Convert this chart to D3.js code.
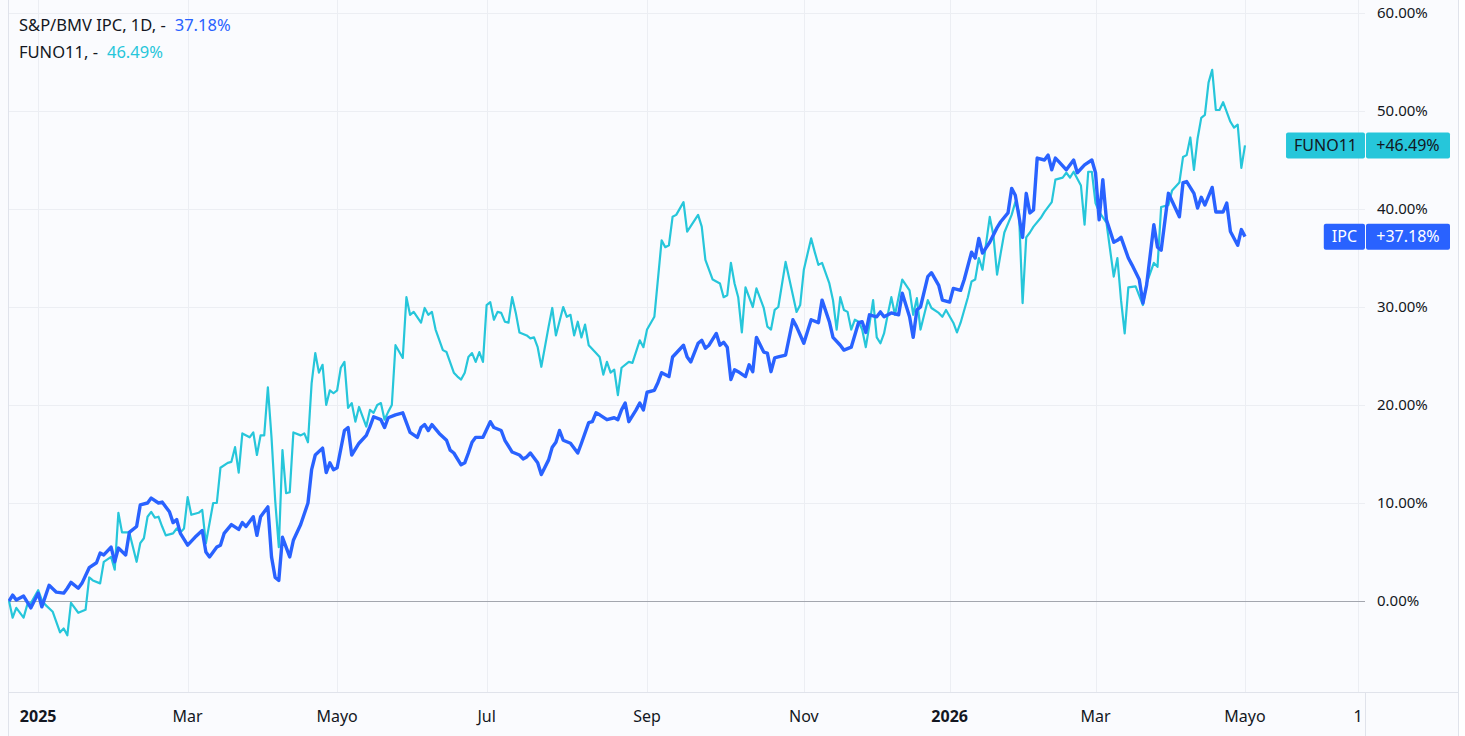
<!DOCTYPE html>
<html>
<head>
<meta charset="utf-8">
<script src="https://cdn.jsdelivr.net/npm/d3@7"></script>
<style>
  body { margin: 0; background: #fafbfe; }
  svg { display: block; font-family: 'Noto Sans', sans-serif; }
</style>
</head>
<body>
<svg width="1465" height="736"></svg>
<script>
// Series: [trading session index, % change since first session]
var ipcData = [[0,0],[1,0.6],[2,0.1],[4,0.5],[6,-0.7],[8,0.8],[9,-0.6],[11,1.6],[13,0.9],[15,0.8],[16,1.3],[17,1.9],[19,1.3],[20,1.8],[22,3.4],[24,3.9],[25,4.9],[26,4.7],[28,5.5],[29,4.0],[30,5.4],[32,4.7],[33,7.0],[35,7.6],[36,9.8],[38,10.0],[39,10.5],[41,10.0],[42,10.1],[44,9.1],[45,8.0],[46,8.3],[47,6.9],[49,5.7],[51,6.5],[53,7.2],[54,5.0],[55,4.5],[57,5.5],[58,5.7],[59,6.9],[61,7.8],[63,7.3],[64,8.0],[65,7.6],[67,8.6],[68,6.7],[69,8.6],[71,9.6],[72,4.5],[73,2.4],[74,2.1],[75,6.5],[77,4.5],[78,6.2],[80,7.8],[82,10.0],[83,13.4],[84,14.9],[86,15.6],[87,13.1],[88,14.1],[89,13.4],[90,13.6],[92,17.4],[93,17.7],[94,14.9],[96,16.1],[98,16.9],[99,17.8],[100,18.8],[102,18.5],[103,17.7],[104,18.7],[106,19.0],[108,19.2],[109,18.2],[110,17.2],[112,16.7],[113,17.7],[114,18.0],[115,17.4],[116,18.0],[118,17.1],[120,16.4],[121,15.4],[122,15.1],[124,13.9],[125,14.1],[126,15.1],[127,16.2],[128,16.7],[130,16.7],[132,18.3],[133,17.7],[135,17.4],[136,16.4],[138,15.2],[140,14.9],[141,14.5],[142,14.7],[143,15.1],[145,14.1],[146,12.9],[148,14.4],[149,15.7],[150,16.2],[151,17.4],[152,16.4],[154,16.1],[156,15.1],[157,16.1],[159,18.2],[160,18.3],[161,19.2],[162,19.0],[164,18.5],[166,18.7],[167,18.5],[168,19.5],[169,20.2],[170,18.3],[172,19.5],[173,20.2],[174,19.5],[175,21.3],[177,21.5],[178,22.3],[179,23.3],[181,22.9],[182,24.9],[185,26.1],[186,24.9],[187,24.4],[189,26.3],[190,26.6],[191,25.8],[192,26.1],[194,27.3],[195,26.1],[196,26.4],[197,25.9],[198,22.6],[199,23.6],[200,23.4],[202,22.9],[203,24.1],[204,23.4],[205,26.9],[207,25.4],[208,25.3],[209,23.4],[210,24.8],[211,24.9],[213,25.1],[215,28.7],[216,28.0],[218,26.3],[220,28.7],[222,28.4],[223,30.7],[225,28.5],[226,26.9],[228,26.1],[229,25.6],[231,25.9],[233,28.4],[234,28.5],[235,27.4],[236,29.2],[238,29.0],[239,29.5],[240,29.0],[242,29.4],[244,29.2],[245,31.4],[247,29.0],[248,26.9],[249,29.7],[250,30.0],[252,33.1],[253,33.5],[255,32.2],[256,30.7],[258,30.5],[259,31.9],[261,31.7],[262,32.8],[264,35.6],[265,35.0],[266,37.0],[267,35.5],[269,36.6],[271,38.1],[272,38.7],[274,39.6],[275,42.1],[276,41.4],[278,37.1],[279,41.6],[280,39.6],[281,39.9],[282,45.2],[284,45.0],[285,45.5],[286,44.0],[287,45.2],[288,44.8],[290,44.0],[292,45.0],[293,43.7],[295,44.5],[297,45.0],[298,43.7],[299,38.9],[300,43.0],[301,38.9],[303,36.6],[304,36.8],[305,37.1],[307,35.0],[308,34.3],[310,32.8],[311,30.4],[312,32.2],[314,38.4],[315,36.1],[316,35.8],[318,41.6],[321,39.2],[322,42.7],[323,42.8],[325,41.6],[326,40.1],[327,41.2],[328,40.4],[330,42.2],[331,39.7],[333,39.7],[334,40.6],[335,37.7],[337,36.3],[338,37.9],[339,37.18]];

var funoData = [[0,0],[1,-1.7],[2,-0.7],[4,-1.7],[5,-0.4],[6,-0.2],[8,1.1],[9,0.1],[10,-0.4],[12,-1.1],[14,-3.2],[15,-2.8],[16,-3.5],[17,-0.2],[19,-1.2],[21,-0.9],[22,2.4],[23,2.1],[25,1.8],[26,4.0],[28,4.5],[29,3.2],[30,9.0],[31,7.0],[33,7.0],[35,4.0],[36,5.9],[37,6.4],[38,8.6],[39,9.1],[40,8.5],[41,8.6],[42,7.6],[43,6.7],[45,6.9],[46,7.4],[47,7.0],[48,7.4],[49,10.6],[50,8.8],[52,9.0],[53,9.3],[54,5.9],[56,10.0],[57,10.0],[58,13.6],[60,14.1],[61,14.2],[62,15.7],[63,13.1],[64,17.1],[66,16.7],[67,17.2],[68,14.9],[69,16.9],[70,16.9],[71,21.8],[72,16.7],[73,10.3],[74,5.5],[75,15.4],[76,11.0],[77,11.1],[78,17.2],[80,16.9],[81,17.1],[82,16.2],[83,22.2],[84,25.3],[85,23.3],[86,24.1],[87,20.0],[88,21.5],[89,21.2],[90,21.5],[91,23.8],[92,24.4],[93,19.7],[94,20.2],[95,18.3],[96,19.8],[98,17.8],[99,19.5],[100,19.2],[101,20.0],[102,20.2],[103,18.5],[104,19.3],[105,20.0],[106,26.1],[108,24.8],[109,31.0],[110,29.2],[111,29.5],[113,28.4],[114,29.9],[115,29.2],[116,29.5],[117,27.7],[119,25.6],[120,25.4],[122,23.3],[123,22.9],[124,22.6],[125,23.3],[126,24.9],[127,25.3],[128,24.4],[129,25.4],[130,24.4],[131,30.2],[132,30.5],[133,28.7],[134,29.5],[135,29.4],[136,28.5],[137,28.4],[138,31.0],[139,29.4],[140,27.4],[142,27.1],[143,26.8],[144,26.9],[145,25.9],[146,23.9],[148,28.0],[149,29.9],[150,27.1],[152,30.0],[153,29.0],[154,29.2],[155,27.1],[156,28.5],[157,26.9],[158,28.2],[159,26.1],[161,25.3],[162,24.9],[163,23.1],[164,24.4],[165,23.3],[166,23.6],[167,21.0],[168,23.8],[170,24.4],[171,24.3],[173,26.6],[174,25.9],[175,27.7],[177,29.0],[179,36.8],[180,36.1],[181,36.3],[182,39.2],[183,39.4],[185,40.7],[186,37.7],[189,39.4],[190,38.2],[191,34.8],[193,32.8],[195,32.4],[196,31.0],[197,31.2],[198,34.5],[199,32.4],[200,31.0],[201,27.4],[202,32.0],[204,30.0],[205,31.9],[207,29.9],[208,28.0],[209,27.7],[210,29.7],[211,30.0],[213,34.6],[215,31.2],[216,29.5],[217,30.2],[218,33.8],[220,37.0],[221,35.6],[222,34.3],[223,34.5],[225,32.4],[226,30.7],[227,27.7],[228,31.0],[229,29.7],[230,29.5],[231,27.7],[232,28.7],[233,28.5],[234,27.7],[235,25.9],[236,28.2],[237,30.7],[238,26.9],[239,26.3],[240,27.3],[241,29.2],[242,31.0],[243,29.2],[245,32.8],[247,31.7],[248,29.2],[249,30.9],[250,27.7],[252,30.7],[253,29.9],[255,29.4],[256,29.0],[257,29.7],[259,28.4],[260,27.4],[261,28.4],[263,31.0],[264,32.6],[265,32.8],[266,35.0],[267,33.8],[269,39.2],[270,37.3],[271,33.3],[272,35.5],[273,37.6],[275,39.4],[276,40.7],[277,39.7],[278,30.4],[279,37.1],[280,37.6],[281,38.2],[283,39.1],[284,39.7],[286,40.7],[287,43.0],[289,43.2],[290,43.7],[291,43.2],[292,43.8],[294,42.4],[295,38.4],[296,43.8],[297,43.8],[298,40.6],[299,39.7],[301,38.6],[303,33.1],[304,35.0],[305,30.7],[306,27.3],[307,32.0],[309,32.1],[311,30.2],[312,32.4],[314,34.5],[315,34.1],[316,40.2],[318,40.4],[319,41.9],[321,42.7],[322,45.3],[323,45.5],[324,47.3],[325,44.0],[326,47.2],[327,49.3],[328,49.6],[329,52.9],[330,54.2],[331,50.1],[332,50.1],[333,50.9],[335,48.9],[336,48.3],[337,48.6],[338,44.2],[339,46.49]];

// Time axis: label text and the session where it sits
var timeLabels = ['2025', 'Mar', 'Mayo', 'Jul', 'Sep', 'Nov', '2026', 'Mar', 'Mayo', '1'];
var timeSessions = [8, 49, 90, 131, 175, 218, 258, 298, 339, 370];

// Price axis ticks
var pctTicks = [0, 10, 20, 30, 40, 50, 60];

var svg = d3.select('svg');
var svgWidth = +svg.attr('width');
var svgHeight = +svg.attr('height');

var plot = {l: 8, r: 1365, t: 0, b: 692};
var axisEdge = 1458;

var blue = '#2962ff';
var cyan = '#26c6da';
var textColor = '#131722';

var x = d3.scaleLinear().domain([0, 339]).range([9, 1245]);
var y = d3.scaleLinear().domain([0, 60]).range([601, 13]);

svg.append('rect')
    .attr('width', svgWidth)
    .attr('height', svgHeight)
    .attr('fill', '#fafbfe');

svg.append('rect')
    .attr('x', axisEdge)
    .attr('width', svgWidth - axisEdge)
    .attr('height', svgHeight)
    .attr('fill', '#ffffff');

// grid
var grid = svg.append('g');
grid.selectAll('.hgrid')
    .data(pctTicks.filter(function(d){ return d !== 0; }))
    .enter().append('line')
    .attr('x1', plot.l).attr('x2', plot.r)
    .attr('y1', function(d){ return Math.round(y(d)) + 0.5; })
    .attr('y2', function(d){ return Math.round(y(d)) + 0.5; })
    .attr('stroke', '#eceef3');

grid.selectAll('.vgrid')
    .data(timeSessions)
    .enter().append('line')
    .attr('x1', function(d){ return Math.round(x(d)) + 0.5; })
    .attr('x2', function(d){ return Math.round(x(d)) + 0.5; })
    .attr('y1', plot.t).attr('y2', plot.b)
    .attr('stroke', '#eceef3');

// borders
svg.append('line')
    .attr('x1', plot.l + 0.5).attr('x2', plot.l + 0.5)
    .attr('y1', 0).attr('y2', svgHeight)
    .attr('stroke', '#e0e3eb');
svg.append('line')
    .attr('x1', plot.l).attr('x2', axisEdge)
    .attr('y1', plot.b + 0.5).attr('y2', plot.b + 0.5)
    .attr('stroke', '#e0e3eb');
svg.append('line')
    .attr('x1', axisEdge + 0.5).attr('x2', axisEdge + 0.5)
    .attr('y1', 0).attr('y2', svgHeight)
    .attr('stroke', '#e0e3eb');
svg.append('line')
    .attr('x1', plot.r + 0.5).attr('x2', plot.r + 0.5)
    .attr('y1', plot.b).attr('y2', svgHeight)
    .attr('stroke', '#e0e3eb');

// zero line
svg.append('line')
    .attr('x1', plot.l).attr('x2', plot.r)
    .attr('y1', Math.round(y(0)) + 0.5).attr('y2', Math.round(y(0)) + 0.5)
    .attr('stroke', '#a3a6ae');

// price axis
var yAxis = svg.append('g')
    .attr('transform', 'translate(' + plot.r + ',0)')
    .call(d3.axisRight(y).tickValues(pctTicks).tickSize(0).tickPadding(12)
        .tickFormat(function(d){ return d.toFixed(2) + '%'; }));
yAxis.select('.domain').remove();
yAxis.selectAll('text')
    .attr('fill', textColor)
    .style('font-size', '15px')
    .style('font-family', "'Noto Sans', sans-serif");

// time axis labels
svg.append('g').selectAll('text')
    .data(timeLabels)
    .enter().append('text')
    .attr('x', function(d, i){ return x(timeSessions[i]); })
    .attr('y', 716)
    .attr('dy', '0.35em')
    .attr('text-anchor', 'middle')
    .attr('fill', textColor)
    .style('font-size', '16px')
    .style('font-weight', function(d){ return /^\d{4}$/.test(d) ? 'bold' : 'normal'; })
    .text(function(d){ return d; });

// lines
svg.append('clipPath').attr('id', 'plotClip')
    .append('rect')
    .attr('x', plot.l).attr('y', plot.t)
    .attr('width', plot.r - plot.l).attr('height', plot.b - plot.t);

var line = d3.line()
    .x(function(d){ return x(d[0]); })
    .y(function(d){ return y(d[1]); });

var lines = svg.append('g').attr('clip-path', 'url(#plotClip)');
lines.append('path')
    .datum(funoData)
    .attr('d', line)
    .attr('fill', 'none')
    .attr('stroke', cyan)
    .attr('stroke-width', 2.2)
    .attr('stroke-linejoin', 'round');
lines.append('path')
    .datum(ipcData)
    .attr('d', line)
    .attr('fill', 'none')
    .attr('stroke', blue)
    .attr('stroke-width', 3.4)
    .attr('stroke-linejoin', 'round');

// last value badges on the price axis
var badges = [
    {name: 'FUNO11', value: funoData[funoData.length - 1][1], color: cyan, ink: textColor},
    {name: 'IPC', value: ipcData[ipcData.length - 1][1], color: blue, ink: '#ffffff'}
];
badges.forEach(function(b) {
    var cy = y(b.value);
    var g = svg.append('g').attr('transform', 'translate(0,' + cy + ')');
    var nameText = g.append('text')
        .attr('y', 0).attr('dy', '0.35em')
        .attr('text-anchor', 'end')
        .attr('x', plot.r - 8)
        .attr('fill', b.ink)
        .style('font-size', '16px')
        .text(b.name);
    var w = nameText.node().getComputedTextLength();
    g.insert('rect', 'text')
        .attr('x', plot.r - w - 16).attr('y', -13)
        .attr('width', w + 16).attr('height', 26)
        .attr('rx', 2)
        .attr('fill', b.color);
    g.insert('rect', 'text')
        .attr('x', plot.r + 1).attr('y', -13)
        .attr('width', 84).attr('height', 26)
        .attr('rx', 2)
        .attr('fill', b.color);
    g.append('text')
        .attr('x', plot.r + 1 + 42).attr('dy', '0.35em')
        .attr('text-anchor', 'middle')
        .attr('fill', b.ink)
        .style('font-size', '16px')
        .text('+' + b.value.toFixed(2) + '%');
});

// legend
var legend = svg.append('g').style('font-size', '16.5px');
var l1 = legend.append('text').attr('x', 19).attr('y', 31).attr('fill', textColor);
l1.append('tspan').text('S&P/BMV IPC, 1D, -');
l1.append('tspan').attr('dx', 9).attr('fill', blue).text(ipcData[ipcData.length - 1][1].toFixed(2) + '%');
var l2 = legend.append('text').attr('x', 19).attr('y', 58).attr('fill', textColor);
l2.append('tspan').text('FUNO11, -');
l2.append('tspan').attr('dx', 9).attr('fill', cyan).text(funoData[funoData.length - 1][1].toFixed(2) + '%');
</script>
</body>
</html>
